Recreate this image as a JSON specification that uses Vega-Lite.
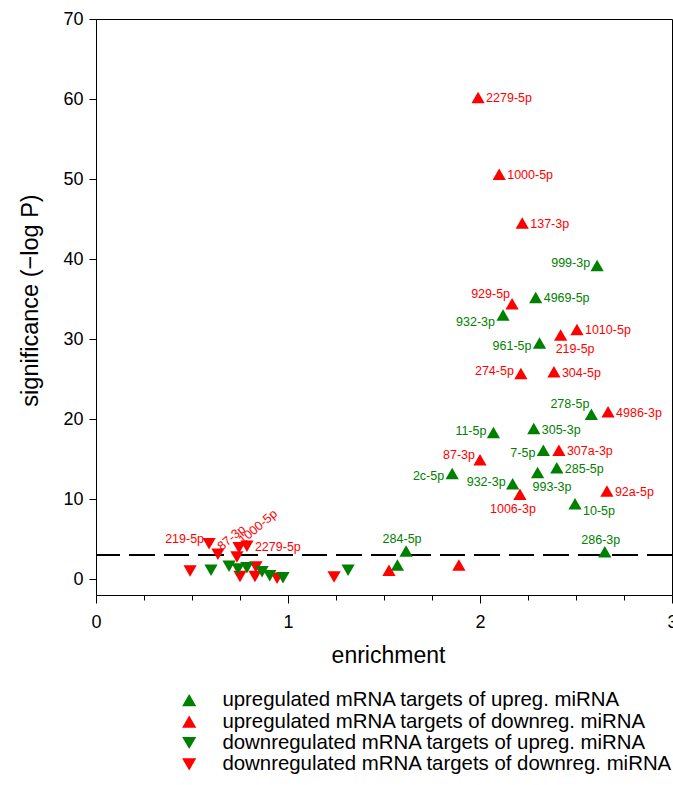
{
  "$schema": "https://vega.github.io/schema/vega-lite/v6.json",
  "width": 576,
  "height": 576,
  "autosize": {"type": "none"},
  "padding": {"left": 96, "top": 19, "right": 1, "bottom": 190},
  "config": {
    "font": "Liberation Sans",
    "view": {"stroke": "#000", "strokeWidth": 1},
    "axis": {"domainColor": "#000", "tickColor": "#000", "labelColor": "#000", "titleColor": "#000", "grid": false, "labelFont": "Liberation Sans", "titleFont": "Liberation Sans", "titleFontWeight": "normal"}
  },
  "data": {
    "values": [
      {"c": "A", "x": 2.61, "y": 39.2, "label": "999-3p"},
      {"c": "A", "x": 2.29, "y": 35.2, "label": "4969-5p"},
      {"c": "A", "x": 2.12, "y": 33.0, "label": "932-3p"},
      {"c": "A", "x": 2.31, "y": 29.5, "label": "961-5p"},
      {"c": "A", "x": 2.58, "y": 20.6, "label": "278-5p"},
      {"c": "A", "x": 2.28, "y": 18.8, "label": "305-3p"},
      {"c": "A", "x": 2.07, "y": 18.3, "label": "11-5p"},
      {"c": "A", "x": 2.33, "y": 16.1, "label": "7-5p"},
      {"c": "A", "x": 2.40, "y": 13.9, "label": "285-5p"},
      {"c": "A", "x": 2.30, "y": 13.3, "label": "993-3p"},
      {"c": "A", "x": 1.855, "y": 13.2, "label": "2c-5p"},
      {"c": "A", "x": 2.17, "y": 11.9, "label": "932-3p"},
      {"c": "A", "x": 2.495, "y": 9.4, "label": "10-5p"},
      {"c": "A", "x": 2.65, "y": 3.4, "label": "286-3p"},
      {"c": "A", "x": 1.615, "y": 3.5, "label": "284-5p"},
      {"c": "A", "x": 1.57, "y": 1.75, "label": ""},
      {"c": "B", "x": 1.99, "y": 60.2, "label": "2279-5p"},
      {"c": "B", "x": 2.10, "y": 50.6, "label": "1000-5p"},
      {"c": "B", "x": 2.22, "y": 44.5, "label": "137-3p"},
      {"c": "B", "x": 2.167, "y": 34.4, "label": "929-5p"},
      {"c": "B", "x": 2.505, "y": 31.2, "label": "1010-5p"},
      {"c": "B", "x": 2.42, "y": 30.5, "label": "219-5p"},
      {"c": "B", "x": 2.213, "y": 25.7, "label": "274-5p"},
      {"c": "B", "x": 2.385, "y": 25.9, "label": "304-5p"},
      {"c": "B", "x": 2.667, "y": 20.9, "label": "4986-3p"},
      {"c": "B", "x": 2.00, "y": 14.9, "label": "87-3p"},
      {"c": "B", "x": 2.411, "y": 16.1, "label": "307a-3p"},
      {"c": "B", "x": 2.208, "y": 10.6, "label": "1006-3p"},
      {"c": "B", "x": 2.661, "y": 11.0, "label": "92a-5p"},
      {"c": "B", "x": 1.526, "y": 1.1, "label": ""},
      {"c": "B", "x": 1.89, "y": 1.75, "label": ""},
      {"c": "D", "x": 0.49, "y": 1.0, "label": ""},
      {"c": "D", "x": 0.589, "y": 4.4, "label": "219-5p"},
      {"c": "D", "x": 0.635, "y": 3.1, "label": "87-3p"},
      {"c": "D", "x": 0.745, "y": 3.9, "label": "1000-5p"},
      {"c": "D", "x": 0.786, "y": 4.1, "label": "2279-5p"},
      {"c": "D", "x": 0.734, "y": 2.75, "label": ""},
      {"c": "D", "x": 0.75, "y": 0.3, "label": ""},
      {"c": "D", "x": 0.833, "y": 1.5, "label": ""},
      {"c": "D", "x": 0.828, "y": 0.3, "label": ""},
      {"c": "D", "x": 0.943, "y": 0.1, "label": ""},
      {"c": "D", "x": 1.24, "y": 0.25, "label": ""},
      {"c": "C", "x": 0.599, "y": 1.1, "label": ""},
      {"c": "C", "x": 0.693, "y": 1.6, "label": ""},
      {"c": "C", "x": 0.74, "y": 1.25, "label": ""},
      {"c": "C", "x": 0.786, "y": 1.4, "label": ""},
      {"c": "C", "x": 0.865, "y": 0.9, "label": ""},
      {"c": "C", "x": 0.905, "y": 0.4, "label": ""},
      {"c": "C", "x": 0.974, "y": 0.15, "label": ""},
      {"c": "C", "x": 1.313, "y": 1.1, "label": ""}
    ]
  },
  "encoding": {
    "x": {"field": "x", "type": "quantitative", "scale": {"domain": [0, 3], "nice": false, "zero": false},
      "axis": {"title": "enrichment", "values": [0, 0.25, 0.5, 0.75, 1, 1.25, 1.5, 1.75, 2, 2.25, 2.5, 2.75, 3],
        "labelExpr": "datum.value % 1 === 0 ? format(datum.value, 'd') : ''", "tickSize": {"condition": {"test": "datum.value % 1 === 0", "value": 8}, "value": 5},
        "labelPadding": 10, "labelFontSize": 18, "titleFontSize": 23, "titleX": 292, "titleY": 60, "titleBaseline": "middle", "labelFlush": false, "labelOverlap": false}},
    "y": {"field": "y", "type": "quantitative", "scale": {"domain": [-2, 70], "nice": false, "zero": false},
      "axis": {"title": "significance (\u2212log P)", "values": [0, 10, 20, 30, 40, 50, 60, 70], "tickSize": 7, "labelPadding": 6,
        "labelFontSize": 18, "titleFontSize": 23.5, "titleX": -66, "titleY": 281, "titleAngle": -90, "titleAlign": "center", "titleBaseline": "middle"}},
    "color": {"field": "c", "type": "nominal", "scale": {"domain": ["A", "B", "C", "D"], "range": ["#008000", "#ff0000", "#008000", "#ff0000"]}}
  },
  "layer": [
    {"mark": {"type": "rule", "strokeDash": [25, 9.5], "strokeWidth": 1.3, "color": "#000"}, "encoding": {"y": {"datum": 3}, "x": null, "color": null}},
    {"mark": {"type": "point", "filled": true, "opacity": 1, "size": 175, "strokeWidth": 0},
      "encoding": {
        "shape": {"field": "c", "type": "nominal", "scale": {"domain": ["A", "B", "C", "D"], "range": ["triangle-up", "triangle-up", "triangle-down", "triangle-down"]}},
        "color": {"field": "c", "type": "nominal",
          "legend": {"title": null, "orient": "none", "legendX": 83, "legendY": 671, "symbolSize": 200, "labelFontSize": 20.4, "labelFont": "Liberation Sans", "labelColor": "#000", "labelOffset": 23, "rowPadding": 0.4, "symbolStrokeWidth": 0, "symbolOpacity": 1, "labelLimit": 600,
            "labelExpr": "{'A':'upregulated mRNA targets of upreg. miRNA','B':'upregulated mRNA targets of downreg. miRNA','C':'downregulated mRNA targets of upreg. miRNA','D':'downregulated mRNA targets of downreg. miRNA'}[datum.label]"}}
      }},
    {"transform": [{"filter": "(datum.c === 'A' && (datum.label === '4969-5p' || datum.label === '305-3p' || datum.label === '285-5p')) || (datum.c === 'B' && (datum.label === '2279-5p' || datum.label === '1000-5p' || datum.label === '137-3p' || datum.label === '1010-5p' || datum.label === '304-5p' || datum.label === '4986-3p' || datum.label === '307a-3p' || datum.label === '92a-5p')) || (datum.c === 'D' && datum.label === '2279-5p')"}],
      "mark": {"type": "text", "align": "left", "baseline": "middle", "dx": 8, "dy": 1, "fontSize": 12.5}, "encoding": {"text": {"field": "label"}}},
    {"transform": [{"filter": "datum.c === 'A' && datum.label === '10-5p'"}],
      "mark": {"type": "text", "align": "left", "baseline": "middle", "dx": 8, "dy": 7, "fontSize": 12.5}, "encoding": {"text": {"field": "label"}}},
    {"transform": [{"filter": "(datum.c === 'A' && (datum.label === '999-3p' || datum.label === '11-5p' || (datum.label === '932-3p' && datum.y < 20))) || (datum.c === 'B' && datum.label === '274-5p')"}],
      "mark": {"type": "text", "align": "right", "baseline": "middle", "dx": -7, "dy": -2, "fontSize": 12.5}, "encoding": {"text": {"field": "label"}}},
    {"transform": [{"filter": "datum.c === 'A' && (datum.label === '961-5p' || datum.label === '7-5p' || datum.label === '2c-5p')"}],
      "mark": {"type": "text", "align": "right", "baseline": "middle", "dx": -8, "dy": 3, "fontSize": 12.5}, "encoding": {"text": {"field": "label"}}},
    {"transform": [{"filter": "datum.c === 'A' && datum.label === '932-3p' && datum.y > 20"}],
      "mark": {"type": "text", "align": "right", "baseline": "middle", "dx": -8, "dy": 7, "fontSize": 12.5}, "encoding": {"text": {"field": "label"}}},
    {"transform": [{"filter": "(datum.c === 'A' && datum.label === '278-5p') || (datum.c === 'B' && datum.label === '929-5p')"}],
      "mark": {"type": "text", "align": "right", "baseline": "middle", "dx": -2, "dy": -10, "fontSize": 12.5}, "encoding": {"text": {"field": "label"}}},
    {"transform": [{"filter": "(datum.c === 'B' && datum.label === '87-3p') || (datum.c === 'D' && datum.label === '219-5p')"}],
      "mark": {"type": "text", "align": "right", "baseline": "middle", "dx": -5, "dy": -5, "fontSize": 12.5}, "encoding": {"text": {"field": "label"}}},
    {"transform": [{"filter": "(datum.c === 'A' && datum.label === '993-3p') || (datum.c === 'B' && datum.label === '219-5p')"}],
      "mark": {"type": "text", "align": "left", "baseline": "middle", "dx": -5, "dy": 14, "fontSize": 12.5}, "encoding": {"text": {"field": "label"}}},
    {"transform": [{"filter": "datum.c === 'B' && datum.label === '1006-3p'"}],
      "mark": {"type": "text", "align": "center", "baseline": "middle", "dx": -7, "dy": 15, "fontSize": 12.5}, "encoding": {"text": {"field": "label"}}},
    {"transform": [{"filter": "datum.c === 'A' && (datum.label === '284-5p' || datum.label === '286-3p')"}],
      "mark": {"type": "text", "align": "center", "baseline": "middle", "dx": -4, "dy": -12, "fontSize": 12.5}, "encoding": {"text": {"field": "label"}}},
    {"transform": [{"filter": "datum.c === 'D' && (datum.label === '87-3p' || datum.label === '1000-5p')"}],
      "mark": {"type": "text", "align": "left", "baseline": "middle", "angle": -40, "dx": 5, "dy": -4, "fontSize": 12.5}, "encoding": {"text": {"field": "label"}}}
  ]
}
